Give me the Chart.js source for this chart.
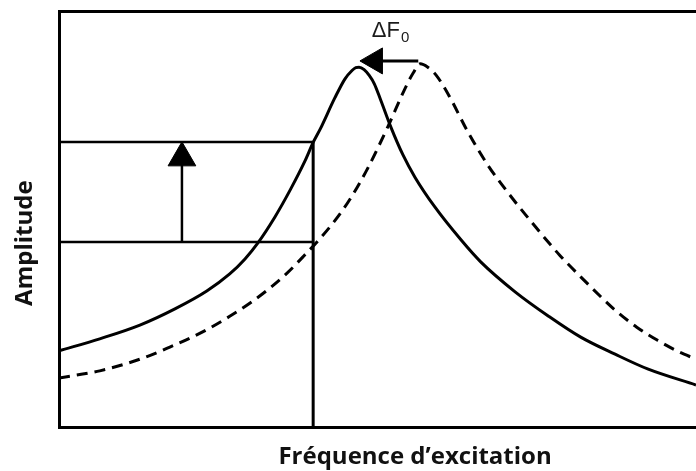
<!DOCTYPE html>
<html lang="fr">
<head>
<meta charset="utf-8">
<title>Amplitude en fonction de la fréquence d’excitation</title>
<script src="https://cdn.jsdelivr.net/npm/chart.js@4/dist/chart.umd.min.js"></script>
<style>
  html, body { margin: 0; padding: 0; background: #ffffff; overflow: hidden; }
  #wrap { width: 696px; height: 471px; }
</style>
</head>
<body>
<div id="wrap"><canvas id="chart" width="696" height="471"></canvas></div>
<script>
// Resonance curve before the shift (solid) — frequency / amplitude, arbitrary units
const solidFreq = [0, 6.4, 12.7, 18.2, 23.2, 26.8, 29.2, 31.2, 33.9, 36.3, 38.6, 39.9, 41.0, 43.3, 44.9, 46.0, 46.6, 47.1, 47.9, 48.7, 49.5, 50.5, 52.1, 54.0, 55.9, 59.0, 63.1, 66.2, 71.6, 76.8, 81.9, 87.3, 92.5, 100];
const solidAmp  = [18.3, 21.2, 24.5, 28.4, 32.7, 36.8, 40.4, 44.2, 50.5, 57.0, 63.9, 68.4, 71.6, 79.1, 83.7, 85.7, 86.4, 86.5, 85.9, 84.5, 82.5, 78.6, 72.1, 65.4, 60.0, 52.9, 45.0, 39.7, 32.5, 26.7, 21.6, 17.5, 13.9, 10.1];

// Resonance curve at the higher resonant frequency (dashed)
const dashedFreq = [0, 6.4, 12.7, 17.4, 20.6, 23.7, 26.8, 30.0, 33.1, 35.8, 38.3, 40.5, 43.0, 45.7, 48.5, 51.6, 54.3, 55.6, 56.7, 57.9, 59.2, 61.1, 64.2, 67.3, 70.5, 74.7, 78.6, 81.9, 85.4, 87.3, 90.7, 93.9, 97.0, 100];
const dashedAmp  = [11.8, 13.5, 16.3, 19.2, 21.4, 23.8, 26.6, 29.8, 33.4, 37.0, 40.9, 44.5, 49.0, 54.8, 62.3, 72.1, 81.3, 85.1, 87.3, 86.5, 84.6, 80.0, 70.9, 63.0, 56.3, 48.3, 41.3, 36.1, 30.8, 28.1, 24.0, 20.9, 18.3, 16.3];

// Fixed excitation frequency and the two amplitude levels read on it
const excitationFreq = [39.9];
const amplitudeLevels = [44.5, 68.5];   // low (dashed curve), high (solid curve)

// Amplitude-increase arrow: frequency, from-level, arrowhead centre
const riseArrowFreq = [19.3];
const riseArrowAmp  = [44.5, 64.7];

// Frequency-shift arrow (ΔF0): amplitude, from-frequency, arrowhead centre
const shiftArrowAmp  = [88.0];
const shiftArrowFreq = [56.4, 49.6];

// Anchors of the text captions (frequency, amplitude)
const shiftLabelAt = [49.1, 93.75];
const xTitleAt = [55.9];
const yTitleAt = [44.2];

const toPoints = (xs, ys) => xs.map((v, i) => ({ x: v, y: ys[i] }));

const INK = '#000000';

const captions = {
  id: 'captions',
  afterDatasetsDraw(chart) {
    const { ctx, chartArea, scales: { x, y } } = chart;
    ctx.save();
    ctx.fillStyle = '#1a1a1a';
    ctx.textAlign = 'left';
    ctx.textBaseline = 'alphabetic';

    // ΔF0 with subscript
    const lx = x.getPixelForValue(shiftLabelAt[0]);
    const ly = y.getPixelForValue(shiftLabelAt[1]);
    ctx.font = '22px "Liberation Sans", Arial, sans-serif';
    ctx.fillText('ΔF', lx, ly);
    const w = ctx.measureText('ΔF').width;
    ctx.font = '15px "Liberation Sans", Arial, sans-serif';
    ctx.fillText('0', lx + w + 1, ly + 5);

    // Axis titles
    ctx.fillStyle = '#111111';
    ctx.font = 'bold 24px "Open Sans", Lato, sans-serif';
    ctx.textAlign = 'center';
    ctx.fillText('Fréquence d’excitation', x.getPixelForValue(xTitleAt[0]), chartArea.bottom + 37);

    ctx.translate(chartArea.left - 27, y.getPixelForValue(yTitleAt[0]));
    ctx.rotate(-Math.PI / 2);
    ctx.fillText('Amplitude', 0, 0);
    ctx.restore();
  }
};

const lineDs = (data, width, dash) => ({
  data,
  borderColor: INK,
  borderWidth: width,
  borderDash: dash || [],
  pointRadius: 0,
  fill: false,
  tension: 0
});

new Chart(document.getElementById('chart'), {
  type: 'line',
  data: {
    datasets: [
      // resonance curves
      Object.assign(lineDs(toPoints(solidFreq, solidAmp), 3), { cubicInterpolationMode: 'monotone' }),
      Object.assign(lineDs(toPoints(dashedFreq, dashedAmp), 3, [11, 7]), { cubicInterpolationMode: 'monotone' }),
      // amplitude levels at the excitation frequency
      lineDs([{ x: 0, y: amplitudeLevels[1] }, { x: excitationFreq[0], y: amplitudeLevels[1] }], 2.5),
      lineDs([{ x: 0, y: amplitudeLevels[0] }, { x: excitationFreq[0], y: amplitudeLevels[0] }], 2.5),
      lineDs([{ x: excitationFreq[0], y: 0 }, { x: excitationFreq[0], y: amplitudeLevels[1] }], 3),
      // amplitude rise arrow
      lineDs([{ x: riseArrowFreq[0], y: riseArrowAmp[0] }, { x: riseArrowFreq[0], y: riseArrowAmp[1] }], 2.5),
      {
        type: 'scatter',
        data: [{ x: riseArrowFreq[0], y: riseArrowAmp[1] }],
        pointStyle: 'triangle', rotation: 0, pointRadius: 16,
        backgroundColor: INK, borderColor: INK, borderWidth: 1
      },
      // resonance shift arrow
      lineDs([{ x: shiftArrowFreq[0], y: shiftArrowAmp[0] }, { x: shiftArrowFreq[1], y: shiftArrowAmp[0] }], 3),
      {
        type: 'scatter',
        data: [{ x: shiftArrowFreq[1], y: shiftArrowAmp[0] }],
        pointStyle: 'triangle', rotation: -90, pointRadius: 15,
        backgroundColor: INK, borderColor: INK, borderWidth: 1
      }
    ]
  },
  options: {
    responsive: false,
    animation: false,
    events: [],
    layout: { autoPadding: false, padding: { left: 59, top: 11, right: 0, bottom: 44 } },
    plugins: { legend: { display: false }, tooltip: { enabled: false }, title: { display: false } },
    scales: {
      x: {
        type: 'linear', position: 'bottom', min: 0, max: 100,
        ticks: { display: false },
        grid: { display: false, drawTicks: false },
        border: { display: true, color: INK, width: 3 }
      },
      xTop: {
        type: 'linear', position: 'top', min: 0, max: 100,
        ticks: { display: false },
        grid: { display: false, drawTicks: false },
        border: { display: true, color: INK, width: 3 }
      },
      y: {
        type: 'linear', position: 'left', min: 0, max: 100,
        ticks: { display: false },
        grid: { display: false, drawTicks: false },
        border: { display: true, color: INK, width: 3 }
      }
    }
  },
  plugins: [captions]
});
</script>
</body>
</html>
